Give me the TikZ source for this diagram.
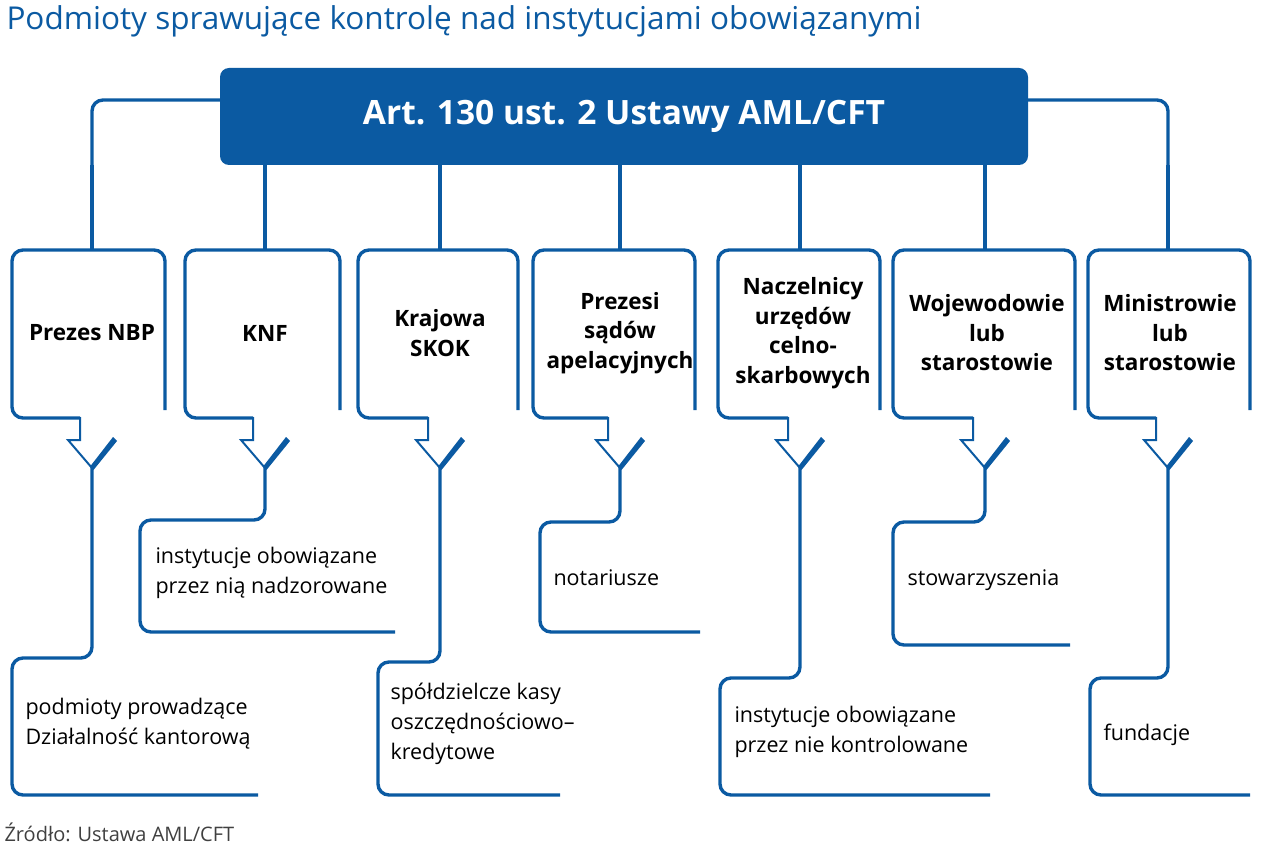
\documentclass[tikz,border=0pt]{standalone}
\usepackage{fontspec}
\setmainfont{Open Sans}
\begin{document}
\definecolor{ablue}{HTML}{0B5AA2}
\begin{tikzpicture}[x=1pt,y=-1pt,
  ln/.style={ablue,line width=3.4pt,rounded corners=11pt},
  top/.style={font=\fontsize{22.5}{29.5}\selectfont\bfseries,align=center},
  low/.style={font=\fontsize{21.5}{30}\selectfont,align=left,anchor=west}]
\useasboundingbox (0,0) rectangle (1261,850);
\node[anchor=west,text=ablue,font=\fontsize{31.5}{35}\selectfont] (title) at (3,21) {Podmioty sprawujące kontrolę nad instytucjami obowiązanymi};
\node[anchor=west,text=black!75,font=\fontsize{20}{23}\selectfont] (src) at (1,832) {Źródło: Ustawa AML/CFT};
\node[fill=ablue,rounded corners=9pt,minimum width=808pt,minimum height=97pt,text=white,font=\fontsize{33.5}{38}\selectfont\bfseries] (h) at (624,116.5) {Art. 130 ust. 2 Ustawy AML/CFT};
\def\TopBox#1#2#3{%
  \draw[ln] (#3,410) -- (#3,250) -- (#2,250) -- (#2,418) -- (#1-12,418);
  \draw[ablue,line width=2pt] (#1-12,417) -- (#1-12,440) -- (#1-24,440) -- (#1,468);
  \fill[ablue] (#1+21,437) -- (#1+25,441) -- (#1+1.5,470) -- (#1-1.5,466) -- cycle;
  \draw[ablue,line width=3.4pt] (#1,250) -- (#1,165);}
\def\LowBox#1#2#3#4#5{%
  \draw[ln] (#1,466) -- (#1,#3) -- (#2,#3) -- (#2,#4) -- (#5,#4);}
\TopBox{265}{185}{340}
\TopBox{440}{358}{518}
\TopBox{620}{533}{695}
\TopBox{800}{718}{880}
\TopBox{985}{893}{1075}
\TopBox{92}{12}{165}
\TopBox{1168}{1088}{1250}
\draw[ln] (h.west|-0,100) -- (92,100) -- (92,250);
\draw[ln] (h.east|-0,100) -- (1168,100) -- (1168,250);
\node[top] (t1) at (92,333) {Prezes NBP};
\node[top] (t2) at (265,333) {KNF};
\node[top] (t3) at (440,333) {Krajowa\\SKOK};
\node[top] (t4) at (620,333) {Prezesi\\sądów\\apelacyjnych};
\node[top] (t5) at (803,333) {Naczelnicy\\urzędów\\celno-\\skarbowych};
\node[top] (t6) at (987,333) {Wojewodowie\\lub\\starostowie};
\node[top] (t7) at (1170,333) {Ministrowie\\lub\\starostowie};
\LowBox{92}{12}{658}{795}{258}
\LowBox{265}{140}{520}{632}{395}
\LowBox{440}{378}{662}{795}{560}
\LowBox{620}{540}{522}{632}{700}
\LowBox{800}{720}{678}{795}{990}
\LowBox{985}{893}{522}{645}{1070}
\LowBox{1168}{1090}{678}{795}{1250}
\node[low] (b1) at (22,724) {podmioty prowadzące\\Działalność kantorową};
\node[low] (b2) at (152,573) {instytucje obowiązane\\przez nią nadzorowane};
\node[low] (b3) at (387,724) {spółdzielcze kasy\\oszczędnościowo–\\kredytowe};
\node[low] (b4) at (550,578) {notariusze};
\node[low] (b5) at (731,732) {instytucje obowiązane\\przez nie kontrolowane};
\node[low] (b6) at (904,580) {stowarzyszenia};
\node[low] (b7) at (1100,735) {fundacje};
\end{tikzpicture}
\end{document}
